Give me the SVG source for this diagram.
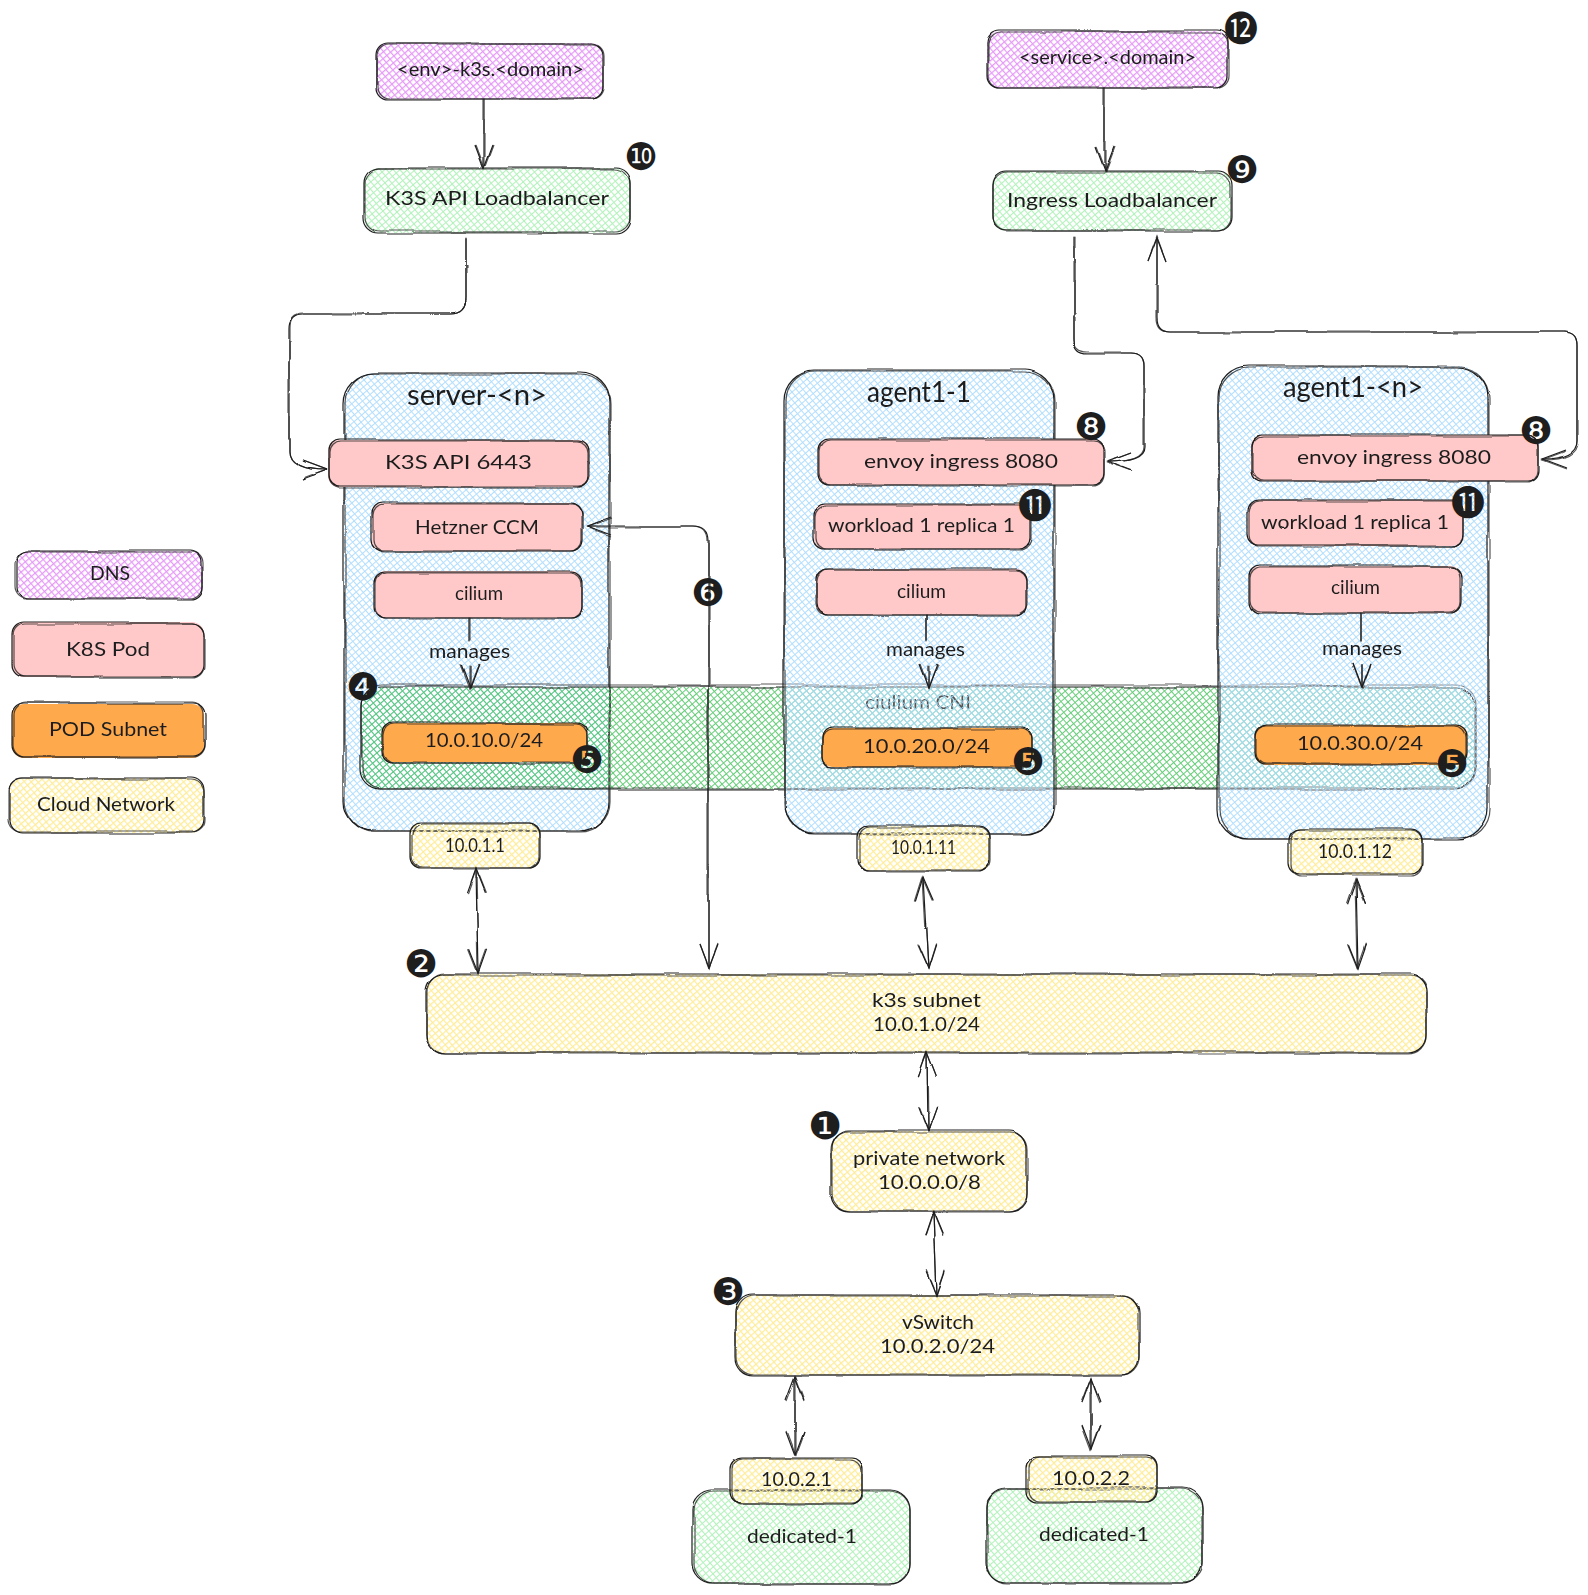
<svg xmlns="http://www.w3.org/2000/svg" xmlns:xlink="http://www.w3.org/1999/xlink" width="1588" height="1595" viewBox="0 0 1588 1595">
<style>
.o{fill:none;stroke:#1e1e1e;stroke-width:1.2}
.a{filter:url(#w1)}
.b{filter:url(#w2);opacity:.75}
.t{font-family:"Lato","Noto Sans",sans-serif;font-size:20px;fill:#1e1e1e;filter:url(#wt)}
.big{font-size:28px}
.n{font-family:"DejaVu Sans","Noto Sans CJK JP",sans-serif;font-size:38px;fill:#1e1e1e;text-anchor:middle}
.m{font-size:34px}
.c{fill:none;stroke:#1e1e1e;stroke-width:1.2;stroke-linecap:round}
.e{marker-end:url(#ah)}
.s{marker-start:url(#ahs)}
.pink{fill:#ffc9c9}.or{fill:#ffa94d}
.pu{fill:url(#hPu)}.ye{fill:url(#hYe)}.gr{fill:url(#hGr)}.bl{fill:url(#hBl)}.cn{fill:url(#hCn)}
</style>
<defs>
<filter id="w1" filterUnits="userSpaceOnUse" x="0" y="0" width="1588" height="1595"><feTurbulence type="fractalNoise" baseFrequency="0.012" numOctaves="2" seed="3"/><feDisplacementMap in="SourceGraphic" scale="5" xChannelSelector="R" yChannelSelector="G"/></filter>
<filter id="w2" filterUnits="userSpaceOnUse" x="0" y="0" width="1588" height="1595"><feTurbulence type="fractalNoise" baseFrequency="0.016" numOctaves="2" seed="11"/><feDisplacementMap in="SourceGraphic" scale="5" xChannelSelector="R" yChannelSelector="G"/></filter>
<filter id="wt" filterUnits="userSpaceOnUse" x="0" y="0" width="1588" height="1595"><feTurbulence type="fractalNoise" baseFrequency="0.09" numOctaves="1" seed="5"/><feDisplacementMap in="SourceGraphic" scale="1.6" xChannelSelector="R" yChannelSelector="G"/></filter>
<pattern id="hPu" width="5" height="5" patternUnits="userSpaceOnUse" patternTransform="rotate(-41)"><path d="M0 0H5M0 0V5" stroke="#e599f7" stroke-width="2.3"/></pattern>
<pattern id="hYe" width="5" height="5" patternUnits="userSpaceOnUse" patternTransform="rotate(-41)"><path d="M0 0H5M0 0V5" stroke="#ffec99" stroke-width="2.4"/></pattern>
<pattern id="hGr" width="5" height="5" patternUnits="userSpaceOnUse" patternTransform="rotate(-41)"><path d="M0 0H5M0 0V5" stroke="#b2f2bb" stroke-width="2.2"/></pattern>
<pattern id="hBl" width="5" height="5" patternUnits="userSpaceOnUse" patternTransform="rotate(-41)"><path d="M0 0H5M0 0V5" stroke="#a5d8ff" stroke-width="2" stroke-opacity=".85"/></pattern>
<pattern id="hCn" width="5" height="5" patternUnits="userSpaceOnUse" patternTransform="rotate(-41)"><path d="M0 0H5M0 0V5" stroke="#40c057" stroke-width="2" stroke-opacity=".8"/></pattern>
<marker id="ah" markerUnits="userSpaceOnUse" markerWidth="28" markerHeight="24" viewBox="0 0 28 24" refX="26" refY="12" orient="auto"><path d="M2 3L26 12L2 21" fill="none" stroke="#1e1e1e" stroke-width="1.2"/></marker>
<marker id="ahs" markerUnits="userSpaceOnUse" markerWidth="28" markerHeight="24" viewBox="0 0 28 24" refX="2" refY="12" orient="auto"><path d="M26 3L2 12L26 21" fill="none" stroke="#1e1e1e" stroke-width="1.2"/></marker>
</defs>
<rect width="1588" height="1595" fill="#fff"/>

<g id="legend-dns"><rect class="pu" x="18" y="551" width="185" height="48" rx="12"/><rect class="o a" x="18" y="551" width="185" height="48" rx="12"/><rect class="o b" x="16" y="552" width="187" height="47" rx="12"/><text class="t" x="90" y="580" textLength="40" lengthAdjust="spacingAndGlyphs">DNS</text></g>
<g id="legend-pod"><rect class="pink" x="12" y="622" width="192" height="55" rx="12"/><rect class="o a" x="12" y="623" width="192" height="54" rx="12"/><rect class="o b" x="13" y="624" width="191" height="53" rx="12"/><text class="t" x="66" y="656" textLength="84" lengthAdjust="spacingAndGlyphs">K8S Pod</text></g>
<g id="legend-subnet"><rect class="or" x="12" y="704" width="192" height="54" rx="12"/><rect class="o a" x="12" y="703" width="192" height="54" rx="12"/><rect class="o b" x="13" y="702" width="191" height="55" rx="12"/><text class="t" x="49" y="736" textLength="118" lengthAdjust="spacingAndGlyphs">POD Subnet</text></g>
<g id="legend-cloud"><rect class="ye" x="10" y="778" width="194" height="55" rx="13"/><rect class="o a" x="10" y="778" width="194" height="55" rx="13"/><rect class="o b" x="9" y="779" width="195" height="53" rx="13"/><text class="t" x="37" y="811" textLength="138" lengthAdjust="spacingAndGlyphs">Cloud Network</text></g>

<g id="dns-k3s"><rect class="pu" x="376" y="43" width="227" height="56" rx="12"/><rect class="o a" x="376" y="43" width="227" height="56" rx="12"/><rect class="o b" x="377" y="44" width="226" height="55" rx="12"/><text class="t" x="397" y="76" textLength="187" lengthAdjust="spacingAndGlyphs">&lt;env&gt;-k3s.&lt;domain&gt;</text></g>
<g id="lb-k3s"><rect class="gr" x="364" y="168" width="266" height="65" rx="15"/><rect class="o a" x="364" y="168" width="266" height="65" rx="15"/><rect class="o b" x="365" y="169" width="265" height="63" rx="15"/><text class="t" x="385" y="205" textLength="224" lengthAdjust="spacingAndGlyphs">K3S API Loadbalancer</text></g>
<g id="dns-service"><rect class="pu" x="987" y="31" width="241" height="57" rx="12"/><rect class="o a" x="987" y="31" width="241" height="57" rx="12"/><rect class="o b" x="988" y="32" width="240" height="56" rx="12"/><text class="t" x="1019" y="64" textLength="177" lengthAdjust="spacingAndGlyphs">&lt;service&gt;.&lt;domain&gt;</text></g>
<g id="lb-ingress"><rect class="gr" x="992" y="171" width="239" height="60" rx="14"/><rect class="o a" x="992" y="171" width="239" height="60" rx="14"/><rect class="o b" x="993" y="172" width="238" height="59" rx="14"/><text class="t" x="1007" y="207" textLength="210" lengthAdjust="spacingAndGlyphs">Ingress Loadbalancer</text></g>

<g id="server"><rect class="bl" x="344" y="373" width="265" height="458" rx="30"/><rect class="o a" x="344" y="373" width="265" height="458" rx="30"/><rect class="o b" x="345" y="374" width="265" height="457" rx="30"/><text class="t big" x="407" y="405" textLength="140" lengthAdjust="spacingAndGlyphs">server-&lt;n&gt;</text></g>
<g id="cilium-cni"><rect class="cn" x="361" y="687" width="1114" height="102" rx="20"/><rect class="o a" x="361" y="687" width="1114" height="102" rx="20"/><rect class="o b" x="362" y="685" width="1113" height="103" rx="20"/><text class="t" x="865" y="709" textLength="106" lengthAdjust="spacingAndGlyphs">ciulium CNI</text></g>
<g id="agent1-1"><rect x="784" y="370" width="270" height="464" rx="30" fill="#fff" fill-opacity=".25"/><rect class="bl" x="784" y="370" width="270" height="464" rx="30"/><rect class="o a" x="784" y="370" width="270" height="464" rx="30"/><rect class="o b" x="785" y="371" width="270" height="463" rx="30"/><text class="t big" x="867" y="402" textLength="104" lengthAdjust="spacingAndGlyphs">agent1-1</text></g>
<g id="agent1-n"><rect x="1218" y="366" width="270" height="473" rx="30" fill="#fff" fill-opacity=".25"/><rect class="bl" x="1218" y="366" width="270" height="473" rx="30"/><rect class="o a" x="1218" y="366" width="270" height="473" rx="30"/><rect class="o b" x="1219" y="367" width="270" height="472" rx="30"/><text class="t big" x="1283" y="397" textLength="140" lengthAdjust="spacingAndGlyphs">agent1-&lt;n&gt;</text></g>

<g id="k3s-api"><rect class="pink" x="328" y="440" width="261" height="47" rx="11"/><rect class="o a" x="328" y="440" width="261" height="47" rx="11"/><rect class="o b" x="329" y="441" width="260" height="46" rx="11"/><text class="t" x="385" y="469" textLength="147" lengthAdjust="spacingAndGlyphs">K3S API 6443</text></g>
<g id="hetzner"><rect class="pink" x="372" y="503" width="210" height="48" rx="11"/><rect class="o a" x="372" y="503" width="210" height="48" rx="11"/><rect class="o b" x="373" y="504" width="209" height="47" rx="11"/><text class="t" x="415" y="534" textLength="124" lengthAdjust="spacingAndGlyphs">Hetzner CCM</text></g>
<g id="cilium-s"><rect class="pink" x="375" y="571" width="207" height="47" rx="11"/><rect class="o a" x="375" y="572" width="207" height="46" rx="11"/><rect class="o b" x="376" y="573" width="206" height="45" rx="11"/><text class="t" x="455" y="600" textLength="48" lengthAdjust="spacingAndGlyphs">cilium</text></g>
<g id="subnet-10"><rect class="or" x="382" y="723" width="205" height="39" rx="11"/><rect class="o a" x="382" y="723" width="205" height="40" rx="11"/><rect class="o b" x="383" y="724" width="204" height="39" rx="11"/><text class="t" x="425" y="747" textLength="118" lengthAdjust="spacingAndGlyphs">10.0.10.0/24</text></g>
<g id="ip-1"><rect class="ye" x="410" y="823" width="130" height="45" rx="11"/><rect class="o a" x="410" y="823" width="130" height="45" rx="11"/><rect class="o b" x="411" y="824" width="129" height="44" rx="11"/><text class="t" x="445" y="852" textLength="60" lengthAdjust="spacingAndGlyphs">10.0.1.1</text></g>

<g id="envoy-1"><rect class="pink" x="818" y="439" width="286" height="46" rx="11"/><rect class="o a" x="818" y="439" width="286" height="46" rx="11"/><rect class="o b" x="819" y="440" width="285" height="45" rx="11"/><text class="t" x="864" y="468" textLength="194" lengthAdjust="spacingAndGlyphs">envoy ingress 8080</text></g>
<g id="workload-1"><rect class="pink" x="814" y="504" width="216" height="45" rx="11"/><rect class="o a" x="814" y="504" width="216" height="45" rx="11"/><rect class="o b" x="815" y="505" width="215" height="44" rx="11"/><text class="t" x="828" y="532" textLength="187" lengthAdjust="spacingAndGlyphs">workload 1 replica 1</text></g>
<g id="cilium-1"><rect class="pink" x="816" y="569" width="211" height="46" rx="11"/><rect class="o a" x="816" y="569" width="211" height="46" rx="11"/><rect class="o b" x="817" y="570" width="210" height="45" rx="11"/><text class="t" x="897" y="598" textLength="49" lengthAdjust="spacingAndGlyphs">cilium</text></g>
<g id="subnet-20"><rect class="or" x="822" y="728" width="210" height="39" rx="10"/><rect class="o a" x="822" y="728" width="210" height="39" rx="10"/><rect class="o b" x="823" y="729" width="209" height="38" rx="10"/><text class="t" x="863" y="753" textLength="127" lengthAdjust="spacingAndGlyphs">10.0.20.0/24</text></g>
<g id="ip-11"><rect class="ye" x="858" y="826" width="132" height="45" rx="11"/><rect class="o a" x="858" y="826" width="132" height="45" rx="11"/><rect class="o b" x="859" y="827" width="131" height="44" rx="11"/><text class="t" x="891" y="854" textLength="65" lengthAdjust="spacingAndGlyphs">10.0.1.11</text></g>

<g id="envoy-n"><rect class="pink" x="1251" y="435" width="287" height="46" rx="11"/><rect class="o a" x="1251" y="435" width="287" height="46" rx="11"/><rect class="o b" x="1252" y="436" width="286" height="45" rx="11"/><text class="t" x="1297" y="464" textLength="194" lengthAdjust="spacingAndGlyphs">envoy ingress 8080</text></g>
<g id="workload-n"><rect class="pink" x="1248" y="500" width="215" height="46" rx="11"/><rect class="o a" x="1248" y="500" width="215" height="46" rx="11"/><rect class="o b" x="1249" y="501" width="214" height="45" rx="11"/><text class="t" x="1261" y="529" textLength="188" lengthAdjust="spacingAndGlyphs">workload 1 replica 1</text></g>
<g id="cilium-n"><rect class="pink" x="1249" y="566" width="212" height="47" rx="11"/><rect class="o a" x="1249" y="566" width="212" height="47" rx="11"/><rect class="o b" x="1250" y="567" width="211" height="46" rx="11"/><text class="t" x="1331" y="594" textLength="49" lengthAdjust="spacingAndGlyphs">cilium</text></g>
<g id="subnet-30"><rect class="or" x="1255" y="725" width="212" height="40" rx="11"/><rect class="o a" x="1255" y="725" width="211" height="39" rx="11"/><rect class="o b" x="1256" y="726" width="210" height="38" rx="11"/><text class="t" x="1297" y="750" textLength="126" lengthAdjust="spacingAndGlyphs">10.0.30.0/24</text></g>
<g id="ip-12"><rect class="ye" x="1289" y="829" width="133" height="46" rx="11"/><rect class="o a" x="1289" y="829" width="133" height="46" rx="11"/><rect class="o b" x="1290" y="830" width="132" height="45" rx="11"/><text class="t" x="1318" y="858" textLength="74" lengthAdjust="spacingAndGlyphs">10.0.1.12</text></g>

<g id="k3s-subnet"><rect class="ye" x="426" y="974" width="1001" height="79" rx="18"/><rect class="o a" x="426" y="974" width="1001" height="79" rx="18"/><rect class="o b" x="427" y="975" width="1000" height="78" rx="18"/><text class="t" x="872" y="1007" textLength="109" lengthAdjust="spacingAndGlyphs">k3s subnet</text><text class="t" x="873" y="1031" textLength="107" lengthAdjust="spacingAndGlyphs">10.0.1.0/24</text></g>
<g id="private-network"><rect class="ye" x="831" y="1131" width="196" height="80" rx="18"/><rect class="o a" x="831" y="1131" width="196" height="80" rx="18"/><rect class="o b" x="832" y="1132" width="195" height="79" rx="18"/><text class="t" x="853" y="1165" textLength="152" lengthAdjust="spacingAndGlyphs">private network</text><text class="t" x="878" y="1189" textLength="103" lengthAdjust="spacingAndGlyphs">10.0.0.0/8</text></g>
<g id="vswitch"><rect class="ye" x="735" y="1295" width="404" height="80" rx="18"/><rect class="o a" x="735" y="1295" width="404" height="80" rx="18"/><rect class="o b" x="736" y="1296" width="403" height="79" rx="18"/><text class="t" x="902" y="1329" textLength="72" lengthAdjust="spacingAndGlyphs">vSwitch</text><text class="t" x="880" y="1353" textLength="115" lengthAdjust="spacingAndGlyphs">10.0.2.0/24</text></g>
<g id="dedicated-a"><rect class="gr" x="693" y="1490" width="217" height="94" rx="20"/><rect class="o a" x="693" y="1490" width="217" height="94" rx="20"/><rect class="o b" x="694" y="1491" width="216" height="93" rx="20"/><text class="t" x="747" y="1543" textLength="110" lengthAdjust="spacingAndGlyphs">dedicated-1</text></g>
<g id="ip-21"><rect class="ye" x="731" y="1458" width="131" height="46" rx="11"/><rect class="o a" x="731" y="1458" width="131" height="46" rx="11"/><rect class="o b" x="732" y="1459" width="130" height="45" rx="11"/><text class="t" x="761" y="1486" textLength="71" lengthAdjust="spacingAndGlyphs">10.0.2.1</text></g>
<g id="dedicated-b"><rect class="gr" x="986" y="1488" width="216" height="95" rx="20"/><rect class="o a" x="986" y="1488" width="216" height="95" rx="20"/><rect class="o b" x="987" y="1489" width="215" height="94" rx="20"/><text class="t" x="1039" y="1541" textLength="110" lengthAdjust="spacingAndGlyphs">dedicated-1</text></g>
<g id="ip-22"><rect class="ye" x="1027" y="1456" width="130" height="46" rx="11"/><rect class="o a" x="1027" y="1456" width="130" height="46" rx="11"/><rect class="o b" x="1028" y="1457" width="129" height="45" rx="11"/><text class="t" x="1052" y="1485" textLength="78" lengthAdjust="spacingAndGlyphs">10.0.2.2</text></g>

<g id="connectors">
<g id="conn" class="a">
<path class="c e" d="M483 99V168"/>
<path class="c e" d="M1105 88V171"/>
<path class="c e" d="M466 238V298Q466 314 450 314H303Q289 314 289 328V452Q289 470 325 470"/>
<path class="c e" d="M1074 237V340Q1074 353 1088 353H1132Q1145 353 1145 366V447Q1145 462 1108 462"/>
<path class="c s e" d="M1542 458Q1577 458 1577 440V345Q1577 332 1564 332H1170Q1157 332 1157 318V238"/>
<path class="c s e" d="M587 527H694Q709 527 709 542V968"/>
<path class="c" d="M470 618V640"/>
<path class="c e" d="M471 665V688"/>
<path class="c" d="M926 615V640"/>
<path class="c e" d="M928 666V688"/>
<path class="c" d="M1362 613V640"/>
<path class="c e" d="M1363 664V687"/>
<path class="c s e" d="M476 868L478 974"/>
<path class="c s e" d="M923 877L928 968"/>
<path class="c s e" d="M1356 881L1358 968"/>
<path class="c s e" d="M927 1053L928 1131"/>
<path class="c s e" d="M934 1211L937 1295"/>
<path class="c s e" d="M796 1376V1455"/>
<path class="c s e" d="M1091 1378V1449"/>
</g>
<use href="#conn" xlink:href="#conn" class="b"/>
<text class="t" x="429" y="658" textLength="81" lengthAdjust="spacingAndGlyphs">manages</text>
<text class="t" x="886" y="656" textLength="79" lengthAdjust="spacingAndGlyphs">manages</text>
<text class="t" x="1322" y="655" textLength="80" lengthAdjust="spacingAndGlyphs">manages</text>
</g>

<g id="badges">
<text class="n" x="825" y="1139">❶</text>
<text class="n" x="421" y="977">❷</text>
<text class="n" x="728" y="1305">❸</text>
<text class="n" x="363" y="700">❹</text>
<text class="n" x="587" y="773">❺</text>
<text class="n" x="1028" y="775">❺</text>
<text class="n" x="1452" y="777">❺</text>
<text class="n" x="708" y="606">❻</text>
<text class="n" x="1091" y="440">❽</text>
<text class="n" x="1536" y="444">❽</text>
<text class="n" x="1242" y="183">❾</text>
<text class="n" x="641" y="170">❿</text>
<text class="n m" x="1035" y="518">⓫</text>
<text class="n m" x="1468" y="515">⓫</text>
<text class="n m" x="1241" y="41">⓬</text>
</g>
</svg>
